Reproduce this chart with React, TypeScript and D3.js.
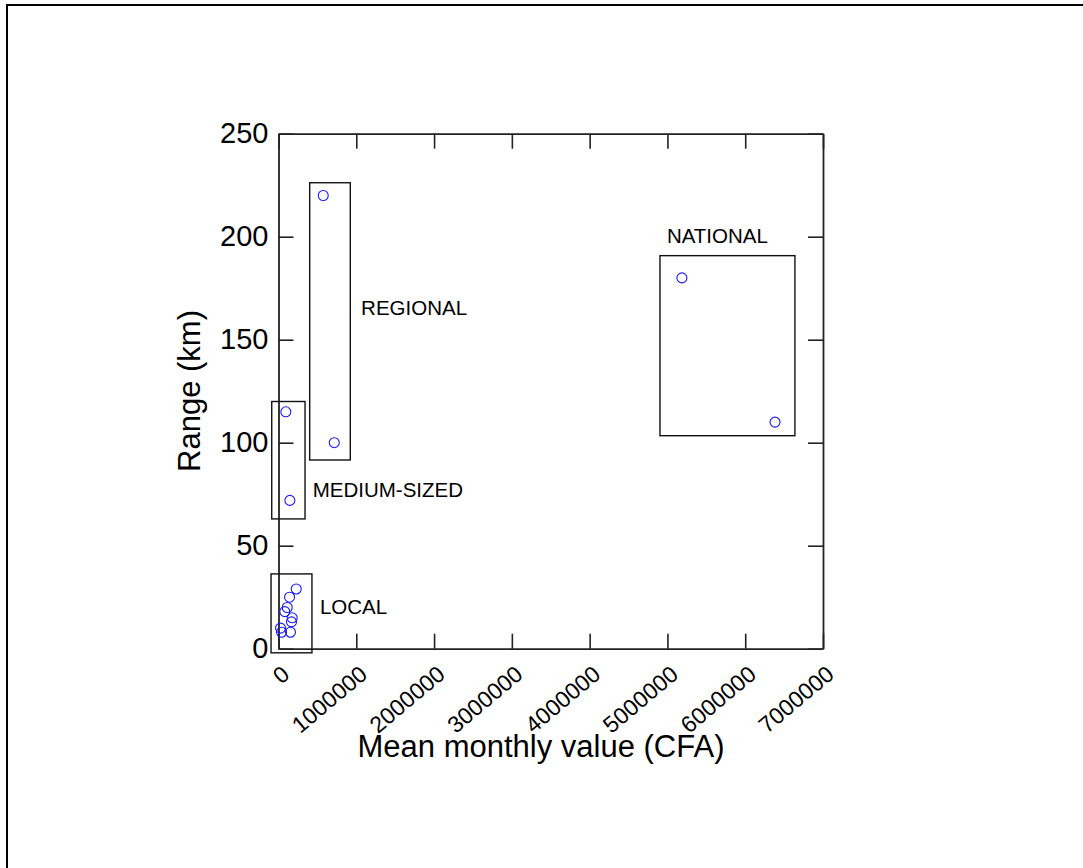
import { useEffect, useRef } from 'react'
import * as d3 from 'd3'

// values
const pointX = [228000, 142000, 112000, 81000, 176000, 167000, 26000, 39000, 154000, 94000, 146000, 575000, 717000, 5186000, 6383000]
const pointY = [29, 25, 20, 18, 15, 13, 10, 8, 8, 115, 72, 220, 100, 180, 110]

const groupNames = ['LOCAL', 'MEDIUM-SIZED', 'REGIONAL', 'NATIONAL']
const boxX0 = [-96000, -87000, 401000, 4904000]
const boxX1 = [430000, 341000, 923000, 6639000]
const boxY0 = [-2, 63, 91.6, 103.4]
const boxY1 = [36.3, 120, 226.2, 190.8]
const labelX = [533000, 440000, 1062000, 4993000]
const labelY = [16.8, 73.5, 162, 197]

const xTicks = [0, 1000000, 2000000, 3000000, 4000000, 5000000, 6000000, 7000000]
const yTicks = [0, 50, 100, 150, 200, 250]

const FONT = "'Liberation Sans', Arial, sans-serif"

export default function App() {
  const svgRef = useRef<SVGSVGElement | null>(null)

  useEffect(() => {
    if (!svgRef.current) return
    const W = 1083, H = 868
    const svg = d3.select(svgRef.current)
    svg.selectAll('*').remove()
    svg.attr('width', W).attr('height', H)

    // outer frame (only top and left edges show)
    svg.append('path')
      .attr('d', `M7,${H} L7,5 L${W},5`)
      .attr('fill', 'none').attr('stroke', '#000').attr('stroke-width', 2)

    const x = d3.scaleLinear().domain([0, 7000000]).range([278.5, 823])
    const y = d3.scaleLinear().domain([0, 250]).range([648.7, 133.7])

    const styleAxis = (g: any) => {
      g.select('.domain').attr('stroke', '#222').attr('stroke-width', 1.8)
      g.selectAll('.tick line').attr('stroke', '#222').attr('stroke-width', 1.6)
    }

    // bottom
    svg.append('g')
      .attr('transform', `translate(0,${y(0)})`)
      .call(d3.axisBottom(x).tickValues(xTicks).tickSizeInner(-15).tickSizeOuter(0).tickFormat(d3.format('d')))
      .call(styleAxis)
      .call((g: any) => {
        g.selectAll('text')
          .attr('x', 0).attr('y', 0).attr('dy', null)
          .attr('text-anchor', 'end')
          .attr('transform', 'translate(12,28) rotate(-40)')
          .attr('font-family', FONT).attr('font-size', 23).attr('fill', '#000')
      })
    // top
    svg.append('g')
      .attr('transform', `translate(0,${y(250)})`)
      .call(d3.axisTop(x).tickValues(xTicks).tickSizeInner(-15).tickSizeOuter(0).tickFormat(() => ''))
      .call(styleAxis)
    // left
    svg.append('g')
      .attr('transform', `translate(${x(0)},0)`)
      .call(d3.axisLeft(y).tickValues(yTicks).tickSizeInner(-15).tickSizeOuter(0).tickPadding(10))
      .call(styleAxis)
      .call((g: any) => {
        g.selectAll('text').attr('font-family', FONT).attr('font-size', 29).attr('fill', '#000')
      })
    // right
    svg.append('g')
      .attr('transform', `translate(${x(7000000)},0)`)
      .call(d3.axisRight(y).tickValues(yTicks).tickSizeInner(-15).tickSizeOuter(0).tickFormat(() => ''))
      .call(styleAxis)

    // group boxes
    svg.selectAll('.grp-box')
      .data(groupNames)
      .join('rect')
      .attr('class', 'grp-box')
      .attr('x', (_, i) => x(boxX0[i]))
      .attr('y', (_, i) => y(boxY1[i]))
      .attr('width', (_, i) => x(boxX1[i]) - x(boxX0[i]))
      .attr('height', (_, i) => y(boxY0[i]) - y(boxY1[i]))
      .attr('fill', 'none')
      .attr('stroke', '#111')
      .attr('stroke-width', 1.4)

    svg.selectAll('.grp-label')
      .data(groupNames)
      .join('text')
      .attr('class', 'grp-label')
      .attr('x', (_, i) => x(labelX[i]))
      .attr('y', (_, i) => y(labelY[i]))
      .attr('font-family', FONT)
      .attr('font-size', 20.5)
      .attr('fill', '#000')
      .text(d => d)

    // points
    svg.selectAll('.pt')
      .data(pointX)
      .join('circle')
      .attr('class', 'pt')
      .attr('cx', d => x(d))
      .attr('cy', (_, i) => y(pointY[i]))
      .attr('r', 5)
      .attr('fill', 'none')
      .attr('stroke', '#1a1aff')
      .attr('stroke-width', 1.1)

    // axis titles
    svg.append('text')
      .attr('transform', 'translate(200,391) rotate(-90)')
      .attr('text-anchor', 'middle')
      .attr('font-family', FONT).attr('font-size', 31).attr('fill', '#000')
      .text('Range (km)')
    svg.append('text')
      .attr('x', 541).attr('y', 757)
      .attr('text-anchor', 'middle')
      .attr('font-family', FONT).attr('font-size', 31).attr('fill', '#000')
      .text('Mean monthly value (CFA)')
  }, [])

  return (
    <div style={{ position: 'absolute', left: 0, top: 0, background: '#fff' }}>
      <svg ref={svgRef} style={{ display: 'block' }} />
    </div>
  )
}
